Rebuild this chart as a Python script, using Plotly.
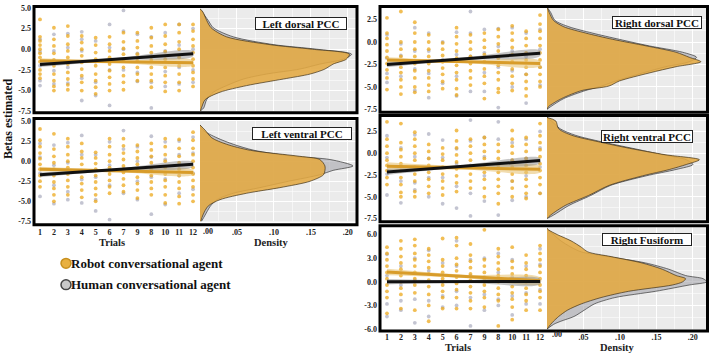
import plotly.graph_objects as go

W, H = 710, 357
FONT = "Liberation Serif"

trial_labels = ["1", "2", "3", "4", "5", "6", "7", "9", "8", "10", "11", "12"]
density_ticks = [0.05, 0.10, 0.15, 0.20]
density_ticktext = [".05", ".10", ".15", ".20"]
density_zero_label = ".00"
legend_labels = ["Robot conversational agent", "Human conversational agent"]

# ---------------- Left dorsal PCC ----------------
ld_robot = [
    [3.6, 1.5, 1.0, 0.5, 0.0, -0.5, -1.0, -1.5, -2.5, -3.0, -3.5],
    [2.6, 1.2, 0.4, -0.5, -1.3, -2.0, -3.0, -3.8, -4.5, -5.0],
    [2.8, 1.6, 0.6, -0.2, -1.0, -1.8, -2.8, -3.6, -4.3, -4.9],
    [1.6, 0.8, 0.0, -0.8, -1.6, -2.4, -3.2, -4.0, -5.0],
    [1.4, 0.5, -0.4, -1.2, -2.0, -3.0, -3.8, -4.6, -5.4],
    [1.5, 0.6, -0.2, -1.0, -1.8, -2.6, -3.4, -4.2, -5.0],
    [2.0, 0.9, 0.1, -0.6, -1.4, -2.2, -3.2, -4.0, -4.9],
    [2.0, 1.0, 0.2, -0.6, -1.4, -2.2, -3.0, -3.8],
    [2.6, 1.4, 0.4, -0.4, -1.3, -2.2, -3.0, -3.8, -4.6],
    [3.0, 1.6, 0.6, -0.3, -1.2, -2.2, -3.2, -4.0, -5.1],
    [3.0, 2.0, 0.9, 0.0, -1.0, -2.0, -3.0, -4.0, -5.0],
    [3.0, 2.2, 1.2, 0.4, -0.4, -1.2, -2.0, -2.8, -3.6, -4.5],
]
ld_human = [
    [1.2, -0.3, -2.0, -3.8, -4.4],
    [1.8, -0.2, -2.6, -4.2],
    [1.9, 0.2, -2.2, -4.1],
    [2.1, 1.2, -0.2, -3.5, -6.2],
    [1.0, -1.5, -4.0, -5.6],
    [3.0, 0.2, -2.5, -6.8],
    [4.7, 2.2, 0.0, -2.5],
    [1.8, -0.5, -2.8, -3.9],
    [1.5, -0.8, -4.0, -7.1],
    [2.0, -0.2, -2.7, -4.5],
    [3.0, 0.5, -2.2, -4.2],
    [2.5, 0.0, -2.5, -4.0],
]
ld_robot_fit = [-1.4, -1.65]
ld_human_fit = [-1.85, -0.55]
ld_robot_ci = [0.3, 0.15, 0.3]
ld_human_ci = [0.3, 0.15, 0.3]
ld_dens_beta = [4.9, 4.5, 3.5, 2.6, 1.5, 0.55, 0.0, -0.6, -1.2, -1.8, -2.4, -3.0, -3.6, -4.4, -5.2, -6.1, -7.1, -7.5]
ld_dens_robot = [0.0, 0.004, 0.009, 0.015, 0.036, 0.095, 0.152, 0.202, 0.198, 0.18, 0.169, 0.149, 0.113, 0.063, 0.027, 0.007, 0.002, 0.0]
ld_dens_human = [0.0, 0.003, 0.011, 0.018, 0.045, 0.10, 0.158, 0.205, 0.194, 0.162, 0.135, 0.09, 0.059, 0.036, 0.018, 0.009, 0.005, 0.0]

# ---------------- Left ventral PCC ----------------
lv_robot = [
    [4.0, 2.6, 1.8, 1.0, 0.3, -0.4, -1.0, -1.8, -2.5, -3.2],
    [3.4, 1.5, 0.6, -0.2, -1.0, -1.8, -2.6, -3.4, -4.2, -5.0],
    [2.8, 1.8, 0.8, 0.0, -0.8, -1.6, -2.4, -3.2, -4.2],
    [2.2, 1.2, 0.4, -0.4, -1.2, -2.0, -2.8, -3.6, -4.5],
    [1.1, 0.4, -0.3, -1.0, -1.8, -2.6, -3.4, -4.2, -5.0],
    [2.8, 1.8, 0.8, 0.0, -0.8, -1.6, -2.4, -3.2, -4.0],
    [2.8, 1.9, 1.0, 0.2, -0.6, -1.4, -2.2, -3.0, -3.8],
    [2.0, 1.2, 0.4, -0.4, -1.2, -2.0, -2.8, -3.6, -4.6],
    [2.2, 1.4, 0.6, -0.2, -1.0, -1.8, -2.6, -3.4, -4.2],
    [2.8, 1.8, 0.8, 0.0, -0.8, -1.6, -2.4, -3.2, -4.2, -5.2],
    [2.7, 1.6, 0.6, -0.2, -1.0, -1.8, -2.6, -3.4, -4.4, -5.3],
    [3.6, 2.6, 1.6, 0.8, 0.0, -0.8, -1.6, -2.4, -3.2, -4.2, -5.0],
]
lv_human = [
    [2.2, 0.5, -1.5, -4.4],
    [2.0, -0.5, -3.0, -5.3],
    [2.3, -0.2, -3.8, -4.8],
    [3.2, 0.8, -2.3, -5.2],
    [0.8, -2.0, -4.8, -6.2],
    [2.4, -0.5, -3.0, -7.3],
    [3.8, 1.5, -1.0, -4.0],
    [1.8, 0.0, -2.5, -4.8],
    [3.1, 0.5, -2.0, -6.6],
    [2.4, 0.2, -2.2, -5.4],
    [2.5, 0.8, -1.8, -4.0],
    [3.0, 1.0, -1.5, -3.5],
]
lv_robot_fit = [-1.0, -1.4]
lv_human_fit = [-1.7, -0.4]
lv_robot_ci = [0.3, 0.15, 0.3]
lv_human_ci = [0.3, 0.15, 0.3]
lv_dens_beta = [4.5, 3.85, 2.9, 2.1, 1.35, 0.6, 0.2, -0.6, -1.15, -1.7, -2.5, -3.3, -4.0, -4.8, -5.6, -6.7, -7.5]
lv_dens_robot = [0.0, 0.007, 0.016, 0.036, 0.068, 0.135, 0.162, 0.169, 0.169, 0.167, 0.149, 0.108, 0.063, 0.027, 0.011, 0.004, 0.001]
lv_dens_human = [0.0, 0.004, 0.023, 0.045, 0.073, 0.126, 0.176, 0.207, 0.18, 0.162, 0.12, 0.081, 0.045, 0.023, 0.014, 0.007, 0.002]

# ---------------- Right dorsal PCC ----------------
rd_robot = [
    [2.7, 1.0, 0.4, -0.3, -1.0, -1.7, -2.4, -3.1, -4.0, -5.3],
    [3.4, 0.0, -0.8, -1.6, -2.2, -2.8, -3.4, -4.2, -5.0, -5.8],
    [2.2, 1.0, 0.0, -0.8, -1.6, -2.4, -3.2, -4.0, -5.0, -5.6],
    [0.8, 0.0, -0.8, -1.6, -2.4, -3.2, -4.0, -4.8, -5.5],
    [-0.1, -0.8, -1.5, -2.2, -2.9, -3.6, -4.4, -5.2],
    [1.6, 0.6, -0.2, -1.0, -1.8, -2.6, -3.4, -4.2, -5.2, -5.9],
    [0.8, 0.0, -0.8, -1.6, -2.4, -3.2, -4.0, -4.8],
    [1.0, 0.2, -0.6, -1.4, -2.2, -3.0, -3.8, -4.6, -6.3],
    [1.4, 0.6, -0.2, -1.0, -1.8, -2.6, -3.4, -4.2, -5.2, -5.6],
    [1.8, 1.0, 0.2, -0.6, -1.4, -2.2, -3.0, -3.8, -4.6, -5.4],
    [1.2, 0.4, -0.4, -1.2, -2.0, -2.8, -3.6, -4.4, -5.2, -6.0],
    [3.0, 2.0, 1.2, 0.4, -0.4, -1.2, -2.0, -2.8, -3.6, -4.4, -5.0],
]
rd_human = [
    [0.8, -1.8, -3.5, -4.5],
    [-0.2, -1.5, -3.8],
    [1.6, -1.0, -3.0, -5.4],
    [1.0, -1.0, -3.5, -6.2],
    [0.0, -2.0, -4.6],
    [1.1, -1.4, -3.8, -6.0],
    [3.4, 1.0, -1.6, -5.5],
    [1.4, -1.2, -3.4, -5.5],
    [1.5, -0.5, -2.8, -7.3],
    [1.6, -1.0, -3.2, -5.0],
    [1.0, -1.6, -3.6, -6.8],
    [1.4, -0.8, -2.8, -4.8],
]
rd_robot_fit = [-2.0, -2.4]
rd_human_fit = [-2.5, -1.25]
rd_robot_ci = [0.3, 0.15, 0.3]
rd_human_ci = [0.3, 0.15, 0.3]
rd_dens_beta = [3.9, 3.3, 2.4, 1.7, 1.0, 0.3, -0.43, -1.14, -1.7, -2.2, -2.75, -3.45, -4.35, -4.9, -5.4, -6.3, -7.2, -7.5]
rd_dens_robot = [0.0, 0.003, 0.009, 0.023, 0.053, 0.09, 0.136, 0.177, 0.195, 0.211, 0.177, 0.14, 0.099, 0.085, 0.048, 0.02, 0.002, 0.0]
rd_dens_human = [0.0, 0.005, 0.011, 0.03, 0.062, 0.099, 0.14, 0.186, 0.205, 0.195, 0.163, 0.131, 0.094, 0.075, 0.053, 0.023, 0.005, 0.0]

# ---------------- Right ventral PCC ----------------
rv_robot = [
    [3.6, 1.6, 0.8, 0.0, -0.8, -1.4, -2.0, -2.8, -3.6],
    [3.4, 1.2, 0.4, -0.4, -1.2, -2.0, -2.8, -3.6, -4.5, -5.0],
    [2.4, 1.6, 0.8, 0.0, -0.8, -1.6, -2.4, -3.2, -4.4, -5.0],
    [1.0, 0.2, -0.6, -1.4, -2.2, -3.0, -3.8, -4.6],
    [0.6, -0.1, -0.8, -1.6, -2.4, -3.2, -4.0, -4.8],
    [2.6, 1.4, 0.6, -0.2, -1.0, -1.8, -2.6, -3.4, -4.4],
    [1.6, 0.8, 0.0, -0.8, -1.6, -2.4, -3.2, -4.0],
    [1.8, 1.0, 0.2, -0.6, -1.4, -2.2, -3.0, -4.0, -5.0],
    [1.0, 0.2, -0.6, -1.4, -2.2, -3.0, -3.8, -4.6, -5.8],
    [2.6, 1.6, 0.8, 0.0, -0.8, -1.6, -2.4, -3.2, -4.0, -5.0],
    [1.8, 1.0, 0.2, -0.6, -1.4, -2.2, -3.0, -3.8, -4.6, -5.2],
    [3.4, 2.0, 1.2, 0.4, -0.4, -1.2, -2.0, -2.8, -3.6, -4.6],
]
rv_human = [
    [2.0, -0.5, -2.4, -4.8],
    [0.6, -1.5, -3.2, -5.7],
    [2.1, -0.4, -3.4, -4.2],
    [2.2, -0.6, -2.8, -5.0],
    [1.5, -0.5, -2.8, -5.8],
    [0.5, -1.2, -3.8, -6.3],
    [3.8, 1.4, -1.4, -4.6, -7.2],
    [1.8, -0.4, -2.6, -5.5],
    [3.6, 1.6, -1.2, -7.1],
    [1.2, -0.8, -3.2, -5.4],
    [1.6, -0.6, -2.6, -5.0],
    [2.5, 0.6, -1.6, -4.6],
]
rv_robot_fit = [-1.5, -1.85]
rv_human_fit = [-2.15, -0.85]
rv_robot_ci = [0.45, 0.2, 0.35]
rv_human_ci = [0.35, 0.15, 0.3]
rv_dens_beta = [4.1, 3.7, 2.8, 2.05, 1.3, 0.56, -0.19, -0.75, -1.3, -1.87, -2.6, -3.7, -4.85, -6.0, -7.1, -7.5]
rv_dens_robot = [0.0, 0.012, 0.016, 0.034, 0.071, 0.113, 0.163, 0.209, 0.191, 0.168, 0.131, 0.085, 0.057, 0.025, 0.005, 0.0]
rv_dens_human = [0.0, 0.006, 0.018, 0.039, 0.075, 0.117, 0.159, 0.191, 0.2, 0.177, 0.136, 0.087, 0.06, 0.03, 0.009, 0.0]

# ---------------- Right Fusiform ----------------
rf_robot = [
    [4.4, 3.6, 2.8, 2.0, 1.2, 0.4, -0.4, -1.2, -2.0, -4.0],
    [5.2, 4.2, 3.2, 2.4, 1.6, 0.8, 0.0, -0.8, -1.6, -3.4],
    [5.4, 4.6, 3.6, 2.8, 2.0, 1.2, 0.4, -0.4, -1.4, -3.6],
    [4.2, 3.4, 2.6, 1.8, 1.0, 0.2, -0.6, -1.6, -3.0, -5.0],
    [5.5, 2.8, 2.0, 1.2, 0.4, -0.4, -1.2, -2.0, -3.4],
    [5.6, 4.6, 3.0, 2.2, 1.4, 0.6, -0.2, -1.0, -2.0, -3.4],
    [4.8, 3.4, 2.6, 1.8, 1.0, 0.2, -0.6, -1.4, -2.4, -3.4],
    [6.6, 2.8, 2.0, 1.2, 0.4, -0.4, -1.2, -2.0, -3.2],
    [4.2, 3.2, 2.4, 1.6, 0.8, 0.0, -0.8, -1.6, -2.4, -5.6],
    [4.4, 2.6, 1.8, 1.0, 0.2, -0.6, -1.4, -2.2, -3.2, -4.8],
    [3.4, 2.4, 1.6, 0.8, 0.0, -0.8, -1.6, -2.4, -3.6],
    [4.6, 3.6, 2.8, 2.0, 1.2, 0.4, -0.4, -1.2, -2.0, -3.6],
]
rf_human = [
    [3.5, 0.8, -2.8, -4.4],
    [2.0, -0.4, -2.4, -3.6],
    [3.0, 0.2, -2.2, -5.2],
    [4.0, 1.4, -2.4, -4.4],
    [2.4, 0.0, -1.8, -3.2],
    [5.2, 2.0, -1.2, -3.0],
    [2.8, 0.8, -2.0, -5.6],
    [3.0, 0.6, -1.6, -3.6],
    [3.6, 1.2, -2.2, -3.0],
    [2.8, 0.6, -1.8, -4.2],
    [2.0, 0.2, -1.4, -2.8],
    [4.2, 2.2, -1.0, -2.8],
]
rf_robot_fit = [1.25, 0.15]
rf_human_fit = [0.0, 0.05]
rf_robot_ci = [0.4, 0.2, 0.4]
rf_human_ci = [0.35, 0.15, 0.35]
rf_dens_beta = [6.8, 6.6, 6.0, 5.2, 4.4, 3.8, 3.2, 2.4, 1.6, 0.8, 0.4, 0.0, -0.4, -1.2, -2.0, -2.8, -3.6, -4.4, -5.0, -5.4, -6.0]
rf_dens_robot = [0.0, 0.002, 0.014, 0.033, 0.047, 0.056, 0.088, 0.13, 0.158, 0.177, 0.19, 0.186, 0.172, 0.112, 0.074, 0.047, 0.028, 0.016, 0.009, 0.005, 0.0]
rf_dens_human = [0.0, 0.001, 0.009, 0.019, 0.033, 0.047, 0.084, 0.135, 0.167, 0.19, 0.214, 0.219, 0.195, 0.149, 0.093, 0.065, 0.051, 0.037, 0.019, 0.009, 0.0]

# ---------------- styling ----------------
ROBOT_PT = "rgba(236,168,28,0.75)"
HUMAN_PT = "rgba(145,148,172,0.55)"
ROBOT_LINE = "#D89C2A"
HUMAN_LINE = "#111111"
ROBOT_BAND = "rgba(232,196,120,0.6)"
HUMAN_BAND = "rgba(140,140,140,0.5)"
ROBOT_DENS = "rgba(226,168,66,0.88)"
HUMAN_DENS = "rgba(165,165,172,0.6)"
DENS_BG = "#EBEBEB"


def px(x):
    return x / W


def py(y):
    return 1 - y / H


def bold(items):
    return [f"<b>{t}</b>" for t in items]


panels = [
    dict(name="Left dorsal PCC", robot=ld_robot, human=ld_human, rfit=ld_robot_fit, hfit=ld_human_fit,
         rci=ld_robot_ci, hci=ld_human_ci, db=ld_dens_beta, dr=ld_dens_robot, dh=ld_dens_human,
         sx=(35, 200), dx=(200, 356), yy=(4, 110), yr=[-7.5, 5.0], ydt=2.5, xr=[0.64, 12.5], dr_rng=[0, 0.211],
         border=(34, 2.5, 357, 111.5), lab=(301, 20, 90), xlabels=False, ytv=[-7.5, -5, -2.5, 0, 2.5, 5], stand=4),
    dict(name="Left ventral PCC", robot=lv_robot, human=lv_human, rfit=lv_robot_fit, hfit=lv_human_fit,
         rci=lv_robot_ci, hci=lv_human_ci, db=lv_dens_beta, dr=lv_dens_robot, dh=lv_dens_human,
         sx=(35, 200), dx=(200, 356), yy=(120, 223), yr=[-7.5, 5.0], ydt=2.5, xr=[0.64, 12.5], dr_rng=[0, 0.211],
         border=(34, 117.5, 357, 226.5), lab=(302, 133, 98), xlabels=True, ytv=[-7.5, -5, -2.5, 0, 2.5, 5], stand=5,
         zero_lab=(208, 233)),
    dict(name="Right dorsal PCC", robot=rd_robot, human=rd_human, rfit=rd_robot_fit, hfit=rd_human_fit,
         rci=rd_robot_ci, hci=rd_human_ci, db=rd_dens_beta, dr=rd_dens_robot, dh=rd_dens_human,
         sx=(381, 547), dx=(547, 706), yy=(4, 109), yr=[-7.6, 3.8], ydt=2.5, xr=[0.57, 12.5], dr_rng=[0, 0.218],
         border=(380, 2.5, 707.5, 111), lab=(657, 19, 88), xlabels=False, ytv=[-7.5, -5, -2.5, 0, 2.5], stand=4),
    dict(name="Right ventral PCC", robot=rv_robot, human=rv_human, rfit=rv_robot_fit, hfit=rv_human_fit,
         rci=rv_robot_ci, hci=rv_human_ci, db=rv_dens_beta, dr=rv_dens_robot, dh=rv_dens_human,
         sx=(381, 547), dx=(547, 706), yy=(116, 221), yr=[-7.6, 4.14], ydt=2.5, xr=[0.57, 12.5], dr_rng=[0, 0.218],
         border=(380, 114.5, 707.5, 223.5), lab=(647, 136, 90), xlabels=False, ytv=[-7.5, -5, -2.5, 0, 2.5], stand=4),
    dict(name="Right Fusiform", robot=rf_robot, human=rf_human, rfit=rf_robot_fit, hfit=rf_human_fit,
         rci=rf_robot_ci, hci=rf_human_ci, db=rf_dens_beta, dr=rf_dens_robot, dh=rf_dens_human,
         sx=(381, 547), dx=(547, 706), yy=(229, 334), yr=[-6.06, 6.93], ydt=3.0, xr=[0.57, 12.5], dr_rng=[0, 0.218],
         border=(380, 227.5, 707.5, 335.5), lab=(647, 242, 88), xlabels=True, ytv=[-6, -3, 0, 3, 6], stand=1,
         zero_lab=(557, 339)),
]

fig = go.Figure()
layout = dict(shapes=[], annotations=[])
positions = list(range(1, len(trial_labels) + 1))
tick_font = dict(family=FONT, size=8, color="#222222")
xtick_font = dict(family=FONT, size=8, color="#222222")

for k, p in enumerate(panels):
    si, di = 2 * k + 1, 2 * k + 2
    sxa, sya = ("x" if si == 1 else f"x{si}"), ("y" if si == 1 else f"y{si}")
    dxa, dya = f"x{di}", f"y{di}"

    # scatter points
    for series, color in ((p["human"], HUMAN_PT), (p["robot"], ROBOT_PT)):
        xs, ys = [], []
        for pos, col in zip(positions, series):
            xs += [pos] * len(col)
            ys += col
        fig.add_trace(go.Scatter(x=xs, y=ys, mode="markers", xaxis=sxa, yaxis=sya, showlegend=False,
                                 marker=dict(size=3.8, color=color, line=dict(width=0))))

    # fit bands and lines
    x0, x1 = positions[0], positions[-1]
    xm = (x0 + x1) / 2
    for fit, ci, band in ((p["rfit"], p["rci"], ROBOT_BAND), (p["hfit"], p["hci"], HUMAN_BAND)):
        ym = (fit[0] + fit[1]) / 2
        centre = [fit[0], ym, fit[1]]
        bx = [x0, xm, x1, x1, xm, x0]
        by = [centre[0] + ci[0], centre[1] + ci[1], centre[2] + ci[2],
              centre[2] - ci[2], centre[1] - ci[1], centre[0] - ci[0]]
        fig.add_trace(go.Scatter(x=bx, y=by, mode="lines", fill="toself", fillcolor=band,
                                 line=dict(width=0), xaxis=sxa, yaxis=sya, showlegend=False, line_shape="spline"))
    fig.add_trace(go.Scatter(x=[x0, x1], y=p["rfit"], mode="lines", xaxis=sxa, yaxis=sya, showlegend=False,
                             line=dict(color=ROBOT_LINE, width=3)))
    fig.add_trace(go.Scatter(x=[x0, x1], y=p["hfit"], mode="lines", xaxis=sxa, yaxis=sya, showlegend=False,
                             line=dict(color=HUMAN_LINE, width=3)))

    # densities
    fig.add_trace(go.Scatter(x=p["dh"], y=p["db"], mode="lines", fill="tozerox", fillcolor=HUMAN_DENS,
                             line=dict(color="rgba(50,50,50,0.85)", width=0.8, shape="spline", smoothing=0.8),
                             xaxis=dxa, yaxis=dya, showlegend=False))
    fig.add_trace(go.Scatter(x=p["dr"], y=p["db"], mode="lines", fill="tozerox", fillcolor=ROBOT_DENS,
                             line=dict(color="rgba(60,45,20,0.85)", width=0.8, shape="spline", smoothing=0.8),
                             xaxis=dxa, yaxis=dya, showlegend=False))

    ydom = [py(p["yy"][1]), py(p["yy"][0])]
    skey = "xaxis" if si == 1 else f"xaxis{si}"
    sykey = "yaxis" if si == 1 else f"yaxis{si}"
    layout[skey] = dict(domain=[px(p["sx"][0]), px(p["sx"][1])], anchor=sya, range=p["xr"],
                        tickvals=positions, ticktext=bold(trial_labels), showticklabels=p["xlabels"],
                        ticks="", showgrid=False, zeroline=False, showline=False,
                        tickfont=xtick_font, ticklabelstandoff=p["stand"])
    layout[sykey] = dict(domain=ydom, anchor=sxa, range=p["yr"], tickvals=p["ytv"],
                         ticktext=bold([f"{v:.1f}" for v in p["ytv"]]), ticks="", showgrid=False,
                         zeroline=False, showline=False, tickfont=tick_font, ticklabelstandoff=3)
    layout[f"xaxis{di}"] = dict(domain=[px(p["dx"][0]), px(p["dx"][1])], anchor=dya, range=p["dr_rng"],
                                tickvals=density_ticks, ticktext=bold(density_ticktext),
                                showticklabels=p["xlabels"], ticks="", showgrid=True, gridcolor="white",
                                gridwidth=1, zeroline=False, showline=False,
                                minor=dict(dtick=0.025, showgrid=True, gridcolor="rgba(255,255,255,0.55)", gridwidth=0.6),
                                tickfont=xtick_font, ticklabelstandoff=p["stand"])
    layout[f"yaxis{di}"] = dict(domain=ydom, anchor=dxa, range=p["yr"], tickvals=p["ytv"],
                                showticklabels=False, ticks="", showgrid=True, gridcolor="white",
                                gridwidth=1, zeroline=False, showline=False,
                                minor=dict(dtick=p["ydt"] / 2, showgrid=True, gridcolor="rgba(255,255,255,0.55)",
                                           gridwidth=0.6))

    # density zero label, nudged right of the last trial label as in the original
    if p.get("zero_lab"):
        zx, zy = p["zero_lab"]
        layout["annotations"].append(dict(text=f"<b>{density_zero_label}</b>", xref="paper", yref="paper",
                                          x=px(zx), y=py(zy), xanchor="center", yanchor="middle", showarrow=False,
                                          font=xtick_font))

    # density background
    layout["shapes"].append(dict(type="rect", xref=f"x{di} domain", yref=f"y{di} domain", x0=0, x1=1, y0=0, y1=1,
                                 fillcolor=DENS_BG, line=dict(width=0), layer="below"))
    # panel border
    bx0, by0, bx1, by1 = p["border"]
    layout["shapes"].append(dict(type="rect", xref="paper", yref="paper", x0=px(bx0), x1=px(bx1),
                                 y0=py(by1), y1=py(by0), line=dict(color="black", width=3), layer="above"))
    # label box
    lx, ly, lw = p["lab"]
    layout["annotations"].append(dict(text=f"<b>{p['name']}</b>", xref="paper", yref="paper", x=px(lx), y=py(ly),
                                      xanchor="center", yanchor="middle", showarrow=False, width=lw, height=11,
                                      bgcolor="white", bordercolor="#222222", borderwidth=1, borderpad=0,
                                      font=dict(family=FONT, size=11, color="#111111")))

# axis titles
for text, x, y in (("Trials", 112, 245), ("Density", 271, 245), ("Trials", 458, 352), ("Density", 617, 352)):
    layout["annotations"].append(dict(text=f"<b>{text}</b>", xref="paper", yref="paper", x=px(x), y=py(y),
                                      xanchor="center", yanchor="middle", showarrow=False,
                                      font=dict(family=FONT, size=10.5, color="#222222")))
layout["annotations"].append(dict(text="<b>Betas estimated</b>", xref="paper", yref="paper", x=px(8), y=py(118),
                                  xanchor="center", yanchor="middle", showarrow=False, textangle=-90,
                                  font=dict(family=FONT, size=12, color="#111111")))

# legend
legend_colors = [("#E8B040", "#C8901E"), ("#C8C8C8", "#444444")]
for i, (label, (fc, lc)) in enumerate(zip(legend_labels, legend_colors)):
    cy = 266 + 22 * i
    layout["shapes"].append(dict(type="circle", xref="paper", yref="paper", x0=px(61), x1=px(71),
                                 y0=py(cy + 5), y1=py(cy - 5), fillcolor=fc, line=dict(color=lc, width=1.5)))
    layout["annotations"].append(dict(text=f"<b>{label}</b>", xref="paper", yref="paper", x=px(69), y=py(cy),
                                      xanchor="left", yanchor="middle", showarrow=False,
                                      font=dict(family=FONT, size=13, color="#111111")))

fig.update_layout(width=W, height=H, autosize=False, margin=dict(l=0, r=0, t=0, b=0),
                  paper_bgcolor="white", plot_bgcolor="white", showlegend=False, **layout)

fig.write_html("out.html", config={"displayModeBar": False},
               post_script="document.body.style.margin='0';document.body.style.overflow='hidden';")
